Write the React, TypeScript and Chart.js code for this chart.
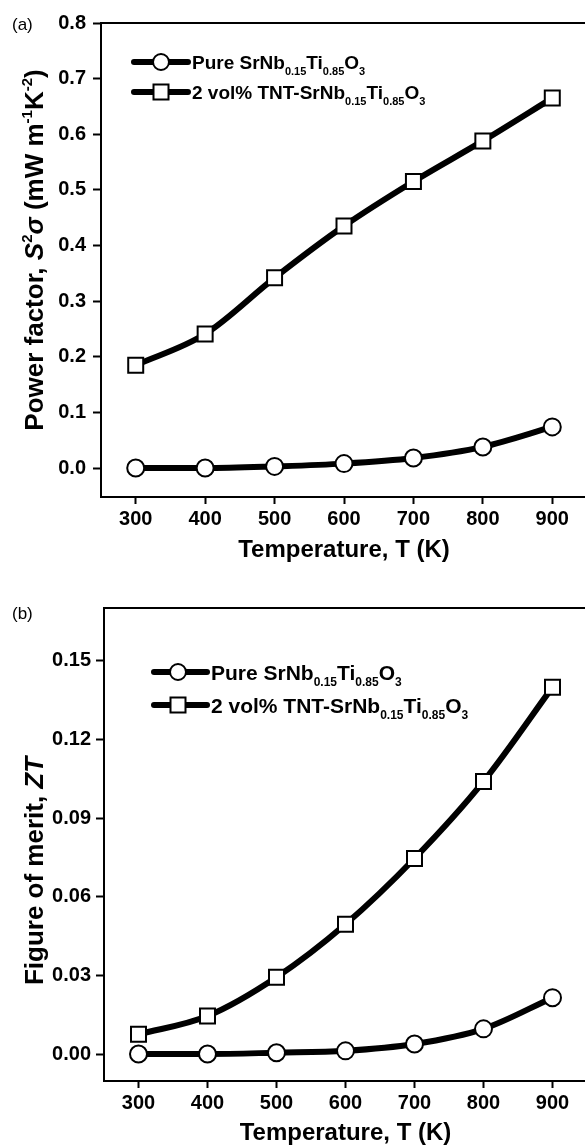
import React, { useEffect, useRef } from "react";
import { Chart, registerables } from "chart.js";

Chart.register(...registerables);

// ---------- data ----------
const temps = [300, 400, 500, 600, 700, 800, 900];
const pfPure = [0.0, 0.0, 0.003, 0.008, 0.018, 0.038, 0.074];
const pfTNT = [0.185, 0.241, 0.342, 0.435, 0.515, 0.588, 0.665];
const ztPure = [0.0, 0.0, 0.0005, 0.0012, 0.0038, 0.0096, 0.0215];
const ztTNT = [0.0075, 0.0145, 0.0293, 0.0495, 0.0746, 0.104, 0.14];

const xTicks = [300, 400, 500, 600, 700, 800, 900];
const pfTicks = [0.0, 0.1, 0.2, 0.3, 0.4, 0.5, 0.6, 0.7, 0.8];
const ztTicks = [0.0, 0.03, 0.06, 0.09, 0.12, 0.15];

type Part = { t: string; sub?: boolean; sup?: boolean; it?: boolean };

const legendPure: Part[] = [
  { t: "Pure SrNb" }, { t: "0.15", sub: true }, { t: "Ti" }, { t: "0.85", sub: true }, { t: "O" }, { t: "3", sub: true },
];
const legendTNT: Part[] = [
  { t: "2 vol% TNT-SrNb" }, { t: "0.15", sub: true }, { t: "Ti" }, { t: "0.85", sub: true }, { t: "O" }, { t: "3", sub: true },
];
const xTitle: Part[] = [{ t: "Temperature, T (K)" }];
const pfTitle: Part[] = [
  { t: "Power factor, " }, { t: "S", it: true }, { t: "2", sup: true }, { t: "σ", it: true }, { t: " (mW m" },
  { t: "-1", sup: true }, { t: "K" }, { t: "-2", sup: true }, { t: ")" },
];
const ztTitle: Part[] = [{ t: "Figure of merit, " }, { t: "ZT", it: true }];

const FONT = "'Liberation Sans', Arial, Helvetica, sans-serif";

function fontFor(p: Part, size: number) {
  const s = p.sub || p.sup ? Math.round(size * 0.58) : size;
  return `${p.it ? "italic " : ""}bold ${s}px ${FONT}`;
}
function measureRich(ctx: CanvasRenderingContext2D, parts: Part[], size: number) {
  let w = 0;
  for (const p of parts) {
    ctx.font = fontFor(p, size);
    w += ctx.measureText(p.t).width;
  }
  return w;
}
function drawRich(ctx: CanvasRenderingContext2D, parts: Part[], x: number, y: number, size: number) {
  ctx.textAlign = "left";
  ctx.textBaseline = "alphabetic";
  let cx = x;
  for (const p of parts) {
    ctx.font = fontFor(p, size);
    const dy = p.sub ? size * 0.33 : p.sup ? -size * 0.42 : 0;
    ctx.fillText(p.t, cx, y + dy);
    cx += ctx.measureText(p.t).width;
  }
}

type PanelSpec = {
  label: string;
  labelY: number;
  canvasH: number;
  padTop: number;
  padRight: number;
  yw: number;
  xh: number;
  ymin: number;
  ymax: number;
  yTicks: number[];
  dec: number;
  yPad: number;
  pure: number[];
  tnt: number[];
  yTitle: Part[];
  yTitleCY: number;
  yTitleBase: number;
  yTitleSize: number;
  xTitleBase: number;
  leg: { x0: number; x1: number; mx: number; tx: number; rows: number[]; size: number };
};

function overlay(p: PanelSpec) {
  return {
    id: "overlay",
    beforeDatasetsDraw(chart: any) {
      const { ctx, chartArea: a } = chart;
      ctx.save();
      ctx.strokeStyle = "#000";
      ctx.lineWidth = 2;
      ctx.beginPath();
      ctx.moveTo(a.left - 1, a.top);
      ctx.lineTo(a.right, a.top);
      ctx.lineTo(a.right, a.bottom);
      ctx.stroke();
      ctx.restore();
    },
    afterDraw(chart: any) {
      const { ctx, chartArea: a } = chart;
      ctx.save();
      ctx.fillStyle = "#000";
      // panel label
      ctx.font = `17px ${FONT}`;
      ctx.textAlign = "left";
      ctx.textBaseline = "alphabetic";
      ctx.fillText(p.label, 12, p.labelY);
      // x title
      const xw = measureRich(ctx, xTitle, 24);
      drawRich(ctx, xTitle, (a.left + a.right) / 2 - xw / 2, p.xTitleBase, 24);
      // y title
      ctx.save();
      ctx.translate(p.yTitleBase, p.yTitleCY);
      ctx.rotate(-Math.PI / 2);
      const yw = measureRich(ctx, p.yTitle, p.yTitleSize);
      drawRich(ctx, p.yTitle, -yw / 2, 0, p.yTitleSize);
      ctx.restore();
      // legend
      const L = p.leg;
      const items: [Part[], string][] = [[legendPure, "circle"], [legendTNT, "rect"]];
      items.forEach(([parts, shape], i) => {
        const y = L.rows[i];
        ctx.strokeStyle = "#000";
        ctx.lineWidth = 6;
        ctx.lineCap = "round";
        ctx.beginPath();
        ctx.moveTo(L.x0, y);
        ctx.lineTo(L.x1, y);
        ctx.stroke();
        ctx.lineWidth = 2;
        ctx.fillStyle = "#fff";
        ctx.beginPath();
        if (shape === "circle") ctx.arc(L.mx, y, 8, 0, Math.PI * 2);
        else ctx.rect(L.mx - 7.5, y - 7.5, 15, 15);
        ctx.fill();
        ctx.stroke();
        ctx.fillStyle = "#000";
        drawRich(ctx, parts, L.tx, y + L.size * 0.36, L.size);
      });
      ctx.restore();
    },
  };
}

function makeConfig(p: PanelSpec): any {
  const tickFont = { family: FONT, size: 20, weight: "bold" as const };
  const common = {
    borderColor: "#000",
    borderWidth: 6,
    pointBackgroundColor: "#fff",
    pointBorderColor: "#000",
    pointBorderWidth: 2,
    cubicInterpolationMode: "monotone",
    fill: false,
  };
  return {
    type: "line",
    data: {
      datasets: [
        { ...common, data: temps.map((t, i) => ({ x: t, y: p.pure[i] })), pointStyle: "circle", pointRadius: 8.5 },
        { ...common, data: temps.map((t, i) => ({ x: t, y: p.tnt[i] })), pointStyle: "rect", pointRadius: 10.6 },
      ],
    },
    options: {
      animation: false,
      responsive: false,
      maintainAspectRatio: false,
      devicePixelRatio: 1,
      events: [],
      layout: { padding: { top: p.padTop, right: p.padRight, left: 0, bottom: 0 } },
      plugins: { legend: { display: false }, tooltip: { enabled: false } },
      scales: {
        x: {
          type: "linear",
          min: 250,
          max: 950,
          afterBuildTicks: (s: any) => {
            s.ticks = xTicks.map((v) => ({ value: v }));
          },
          afterFit: (s: any) => {
            s.height = p.xh;
          },
          grid: { drawOnChartArea: false, drawTicks: true, tickLength: 7, tickWidth: 2, tickColor: "#000" },
          border: { display: true, color: "#000", width: 2 },
          ticks: { font: tickFont, color: "#000", padding: 3, maxRotation: 0, autoSkip: false, callback: (v: any) => String(v) },
        },
        y: {
          type: "linear",
          min: p.ymin,
          max: p.ymax,
          afterBuildTicks: (s: any) => {
            s.ticks = p.yTicks.map((v) => ({ value: v }));
          },
          afterFit: (s: any) => {
            s.width = p.yw;
          },
          grid: { drawOnChartArea: false, drawTicks: true, tickLength: 8, tickWidth: 2, tickColor: "#000" },
          border: { display: true, color: "#000", width: 2 },
          ticks: { font: tickFont, color: "#000", padding: p.yPad, autoSkip: false, callback: (v: any) => Number(v).toFixed(p.dec) },
        },
      },
    },
    plugins: [overlay(p)],
  };
}

const panelA: PanelSpec = {
  label: "(a)",
  labelY: 30,
  canvasH: 575,
  padTop: 23,
  padRight: 13,
  yw: 101,
  xh: 78,
  ymin: -0.052,
  ymax: 0.8,
  yTicks: pfTicks,
  dec: 1,
  yPad: 7,
  pure: pfPure,
  tnt: pfTNT,
  yTitle: pfTitle,
  yTitleCY: 250,
  yTitleBase: 43,
  yTitleSize: 26,
  xTitleBase: 557,
  leg: { x0: 134, x1: 188, mx: 161, tx: 192, rows: [62, 92], size: 19 },
};

const panelB: PanelSpec = {
  label: "(b)",
  labelY: 44,
  canvasH: 571,
  padTop: 33,
  padRight: 13,
  yw: 104,
  xh: 65,
  ymin: -0.0103,
  ymax: 0.1702,
  yTicks: ztTicks,
  dec: 2,
  yPad: 5,
  pure: ztPure,
  tnt: ztTNT,
  yTitle: ztTitle,
  yTitleCY: 296,
  yTitleBase: 43,
  yTitleSize: 26,
  xTitleBase: 565,
  leg: { x0: 154, x1: 207, mx: 178, tx: 211, rows: [97, 130], size: 21 },
};

function Panel({ spec, top }: { spec: PanelSpec; top: number }) {
  const ref = useRef<HTMLCanvasElement | null>(null);
  useEffect(() => {
    if (!ref.current) return;
    const chart = new Chart(ref.current, makeConfig(spec));
    return () => chart.destroy();
  }, [spec]);
  return (
    <canvas
      ref={ref}
      width={600}
      height={spec.canvasH}
      style={{ position: "absolute", left: 0, top, width: 600, height: spec.canvasH, display: "block" }}
    />
  );
}

export default function App() {
  return (
    <div
      style={{
        position: "absolute",
        left: 0,
        top: 0,
        width: 585,
        height: 1146,
        overflow: "hidden",
        background: "#fff",
      }}
    >
      <Panel spec={panelA} top={0} />
      <Panel spec={panelB} top={575} />
    </div>
  );
}
